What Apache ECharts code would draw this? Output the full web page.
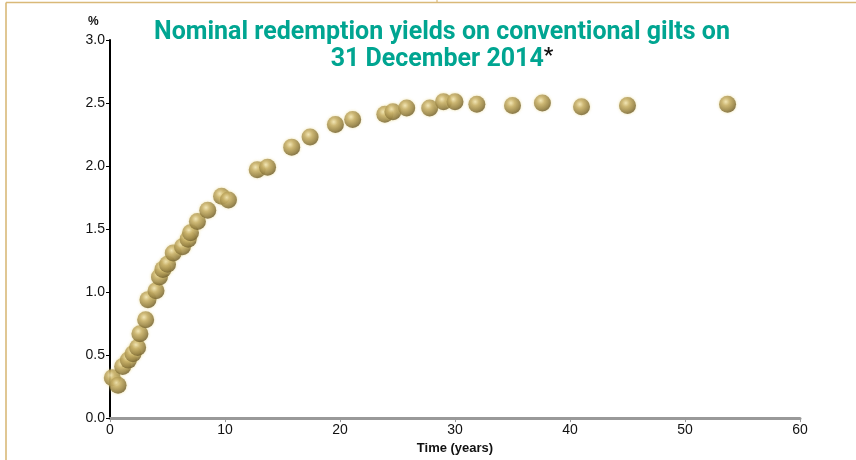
<!DOCTYPE html>
<html>
<head>
<meta charset="utf-8">
<script src="https://cdn.jsdelivr.net/npm/echarts@6/dist/echarts.min.js"></script>
<style>
html,body{margin:0;padding:0;background:#fff;}
#c{width:856px;height:460px;}
</style>
</head>
<body>
<div id="c"></div>
<script>
const maturities = [0.2, 0.7, 1.1, 1.6, 2.0, 2.4, 2.6, 3.1, 3.3, 4.0, 4.3, 4.6, 5.0, 5.5, 6.3, 6.8, 7.0, 7.6, 8.5, 9.7, 10.3, 12.8, 13.7, 15.8, 17.4, 19.6, 21.1, 23.9, 24.6, 25.8, 27.8, 29.0, 30.0, 31.9, 35.0, 37.6, 41.0, 45.0, 53.7];
const yields =     [0.32, 0.26, 0.41, 0.46, 0.51, 0.56, 0.67, 0.78, 0.94, 1.01, 1.12, 1.18, 1.22, 1.31, 1.36, 1.42, 1.47, 1.56, 1.65, 1.76, 1.73, 1.97, 1.99, 2.15, 2.23, 2.33, 2.37, 2.41, 2.43, 2.46, 2.46, 2.51, 2.51, 2.49, 2.48, 2.50, 2.47, 2.48, 2.49];
const xTicks = [0, 10, 20, 30, 40, 50, 60];
const yTicks = [0.0, 0.5, 1.0, 1.5, 2.0, 2.5, 3.0];

const points = maturities.map((m, i) => [m, yields[i]]);

const FONT = 'Roboto';
const chart = echarts.init(document.getElementById('c'));
const gold = {
  type: 'radial', x: 0.4, y: 0.35, r: 0.65,
  colorStops: [
    {offset: 0, color: '#f3e7b8'},
    {offset: 0.35, color: '#c4ac66'},
    {offset: 0.8, color: '#8f7a3e'},
    {offset: 1, color: '#6e5c2c'}
  ]
};
chart.setOption({
  animation: false,
  title: {
    text: 'Nominal redemption yields on conventional gilts on\n{a|31 December 2014}{b|*}',
    left: 437, top: 14, textAlign: 'center',
    textStyle: {
      fontFamily: FONT, fontWeight: 'bold', fontSize: 25,
      color: '#00a591', lineHeight: 27,
      rich: {
        a: {fontFamily: FONT, fontWeight: 'bold', fontSize: 25, color: '#00a591', lineHeight: 27},
        b: {fontFamily: FONT, fontWeight: 'bold', fontSize: 21, color: '#111', lineHeight: 27, verticalAlign: 'top'}
      }
    }
  },
  graphic: [
    {type: 'line', shape: {x1: 6, y1: 2.5, x2: 856, y2: 2.5}, style: {stroke: '#d9b978', lineWidth: 1.6}},
    {type: 'line', shape: {x1: 6, y1: 2.5, x2: 6, y2: 460}, style: {stroke: '#d9b978', lineWidth: 1.6}},
    {type: 'line', shape: {x1: 437, y1: 0, x2: 437, y2: 3}, style: {stroke: '#d9b978', lineWidth: 1.2}},
    {type: 'text', left: 88, top: 16, style: {text: '%', font: 'bold 12px "Liberation Sans"', fill: '#111'}}
  ],
  grid: {left: 110, right: 56, top: 40, bottom: 41, containLabel: false},
  xAxis: {
    type: 'value', min: xTicks[0], max: xTicks[xTicks.length - 1], interval: 10,
    name: 'Time (years)', nameLocation: 'middle', nameGap: 22,
    nameTextStyle: {fontFamily: 'Liberation Sans', fontWeight: 'bold', fontSize: 13, color: '#111'},
    axisLine: {lineStyle: {color: '#999', width: 3}},
    axisTick: {show: true, length: 4, lineStyle: {color: '#999', width: 1}},
    axisLabel: {fontFamily: 'Liberation Sans', fontSize: 14, color: '#111', margin: 5,
      formatter: v => xTicks.includes(v) ? String(v) : ''},
    splitLine: {show: false}
  },
  yAxis: {
    type: 'value', min: yTicks[0], max: yTicks[yTicks.length - 1], interval: 0.5,
    axisLine: {show: true, lineStyle: {color: '#000', width: 2}},
    axisTick: {show: true, length: 4, lineStyle: {color: '#000', width: 1}},
    axisLabel: {fontFamily: 'Liberation Sans', fontSize: 14, color: '#111', margin: 5,
      formatter: v => v.toFixed(1)},
    splitLine: {show: false}
  },
  series: [{
    type: 'scatter',
    data: points,
    symbolSize: 17,
    itemStyle: {
      color: gold,
      shadowColor: 'rgba(230, 210, 120, 0.8)', shadowBlur: 3
    }
  }]
});
</script>
</body>
</html>
